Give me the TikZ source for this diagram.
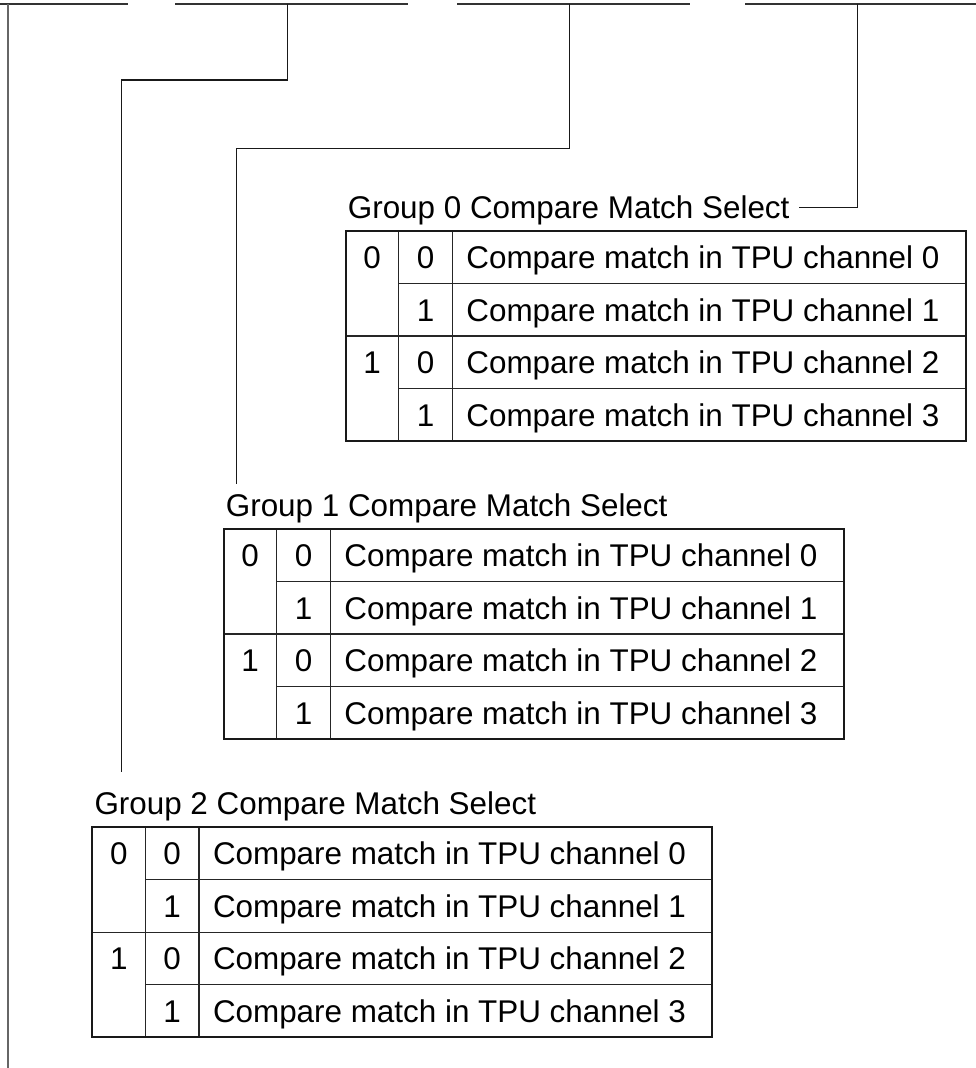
\documentclass[tikz,border=0pt]{standalone}
\usepackage{fontspec}
\setmainfont{Liberation Sans}
\tikzset{
  title/.style={inner sep=0pt, font=\fontsize{31.4}{37}\selectfont},
  cell/.style={inner sep=0pt, anchor=base, font=\fontsize{31.4}{37}\selectfont},
  desc/.style={inner sep=0pt, anchor=base west, font=\fontsize{31.4}{37}\selectfont},
  outer/.style={line width=2pt, draw=black!90},
  inner/.style={line width=1.3pt, draw=black!85},
  conn/.style={line width=1.3pt, draw=black!90},
  bus/.style={line width=1.6pt, draw=black!80},
}
\newcommand\cmtable[4]{%
  \begin{scope}[shift={(#2,#3)}]
    \node[title,anchor=base west] (#1title) at (2,-12.7) {Group #4 Compare Match Select};
    \draw[inner] (53,0) -- (53,210);
    \draw[inner] (106.6,0) -- (106.6,210);
    \draw[inner] (53,52.5) -- (620,52.5);
    \draw[inner] (0,105) -- (620,105);
    \draw[inner] (53,157.5) -- (620,157.5);
    \draw[outer] (0,0) rectangle (620,210);
    \node[cell] (#1a0) at (26.5,37.5) {0};
    \node[cell] (#1a1) at (26.5,142.5) {1};
    \node[cell] (#1b0) at (79.8,37.5) {0};
    \node[cell] (#1b1) at (79.8,90) {1};
    \node[cell] (#1b2) at (79.8,142.5) {0};
    \node[cell] (#1b3) at (79.8,195) {1};
    \node[desc] (#1c0) at (120.5,37.5) {Compare match in TPU channel 0};
    \node[desc] (#1c1) at (120.5,90) {Compare match in TPU channel 1};
    \node[desc] (#1c2) at (120.5,142.5) {Compare match in TPU channel 2};
    \node[desc] (#1c3) at (120.5,195) {Compare match in TPU channel 3};
  \end{scope}}
\begin{document}
\begin{tikzpicture}[x=1pt,y=-1pt]
  \useasboundingbox (0,0) rectangle (976,1068);
  % top bus segments
  \draw[bus] (0,3.7) -- (128,3.7);
  \draw[bus] (175,3.7) -- (408,3.7);
  \draw[bus] (457,3.7) -- (690,3.7);
  \draw[bus] (745,3.7) -- (976,3.7);
  % tables
  \cmtable{g0}{345.7}{231}{0}
  \cmtable{g1}{223.7}{529}{1}
  \cmtable{g2}{92.3}{827.3}{2}
  % connector end points
  \coordinate (s0) at (857.3,3.7);
  \coordinate (e0) at (799,207.7);
  \coordinate (s1) at (569.3,3.7);
  \coordinate (e1) at (236.3,483.5);
  \coordinate (s2) at (287.3,3.7);
  \coordinate (e2) at (121.3,772.3);
  \coordinate (s3) at (7.7,3.7);
  \coordinate (e3) at (7.7,1068);
  % connectors
  \draw[conn] (s0) |- (e0);
  \draw[conn] (s1) |- (236.3,148.5) -- (e1);
  \draw[conn] (s2) |- (121.3,80) -- (e2);
  \draw[line width=1.6pt, draw=black!60] (s3) -- (e3);
\end{tikzpicture}
\end{document}
